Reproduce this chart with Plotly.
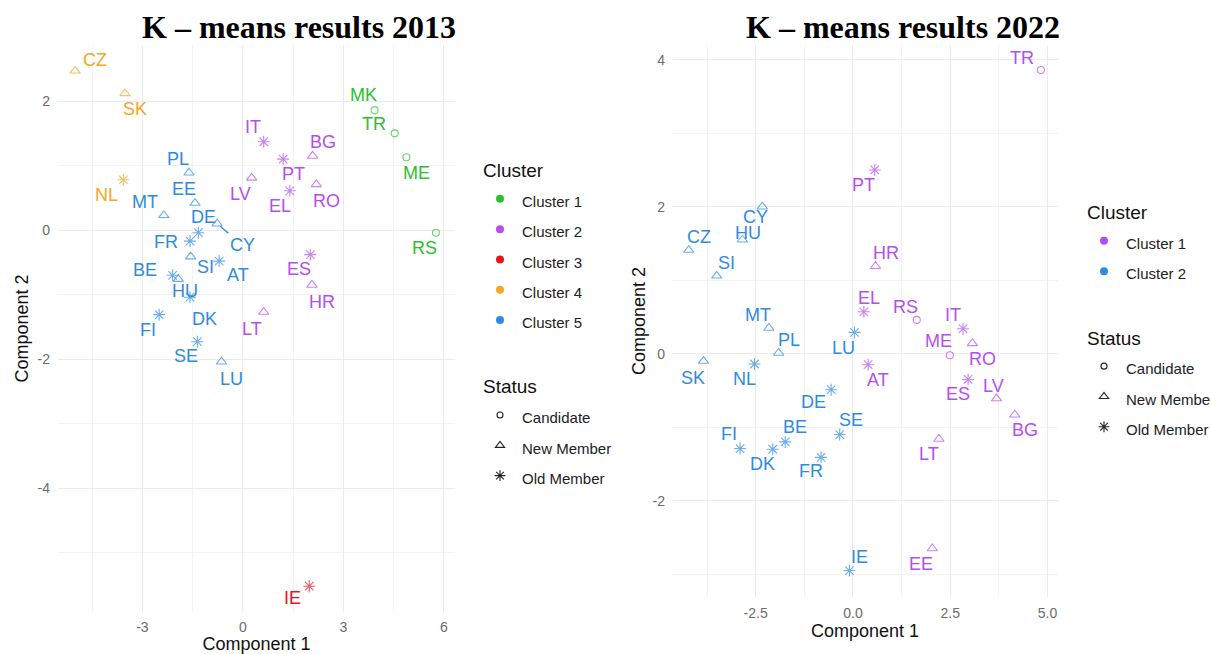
import plotly.graph_objects as go

# ---------------- data : 2013 ----------------
countries_2013 = ["CZ", "SK", "NL", "MK", "TR", "ME", "RS", "IT", "PT", "BG", "LV", "EL", "RO",
                  "ES", "HR", "LT", "IE", "PL", "EE", "MT", "CY", "DE", "FR", "SI", "AT", "BE",
                  "HU", "DK", "FI", "SE", "LU"]
pc1_2013 = [-5.01, -3.52, -3.57, 3.93, 4.53, 4.88, 5.76, 0.62, 1.20, 2.08, 0.26, 1.40, 2.19,
            2.01, 2.06, 0.62, 1.98, -1.61, -1.43, -2.36, -0.77, -1.33, -1.58, -1.56, -0.71, -2.10,
            -1.93, -1.58, -2.50, -1.36, -0.64]
pc2_2013 = [2.47, 2.12, 0.78, 1.86, 1.50, 1.13, -0.04, 1.37, 1.10, 1.15, 0.81, 0.61, 0.71,
            -0.38, -0.85, -1.27, -5.52, 0.89, 0.42, 0.23, 0.10, -0.04, -0.17, -0.41, -0.48, -0.70,
            -0.76, -1.04, -1.31, -1.73, -2.04]
cluster_2013 = ["Cluster 4", "Cluster 4", "Cluster 4", "Cluster 1", "Cluster 1", "Cluster 1", "Cluster 1",
                "Cluster 2", "Cluster 2", "Cluster 2", "Cluster 2", "Cluster 2", "Cluster 2",
                "Cluster 2", "Cluster 2", "Cluster 2", "Cluster 3", "Cluster 5", "Cluster 5", "Cluster 5",
                "Cluster 5", "Cluster 5", "Cluster 5", "Cluster 5", "Cluster 5", "Cluster 5",
                "Cluster 5", "Cluster 5", "Cluster 5", "Cluster 5", "Cluster 5"]
status_2013 = ["New Member", "New Member", "Old Member", "Candidate", "Candidate", "Candidate", "Candidate",
               "Old Member", "Old Member", "New Member", "New Member", "Old Member", "New Member",
               "Old Member", "New Member", "New Member", "Old Member", "New Member", "New Member", "New Member",
               "New Member", "Old Member", "Old Member", "New Member", "Old Member", "Old Member",
               "New Member", "Old Member", "Old Member", "Old Member", "New Member"]

# ---------------- data : 2022 ----------------
countries_2022 = ["TR", "PT", "HR", "EL", "RS", "IT", "ME", "RO", "AT", "ES", "LV", "BG", "LT", "EE",
                  "CY", "HU", "CZ", "SI", "MT", "PL", "LU", "SK", "NL", "DE", "SE", "BE", "FI", "DK",
                  "FR", "IE"]
pc1_2022 = [4.83, 0.56, 0.58, 0.28, 1.64, 2.83, 2.49, 3.07, 0.39, 2.96, 3.69, 4.16, 2.21, 2.04,
            -2.33, -2.84, -4.22, -3.50, -2.16, -1.91, 0.04, -3.84, -2.53, -0.56, -0.34, -1.74, -2.90, -2.06,
            -0.82, -0.09]
pc2_2022 = [3.86, 2.50, 1.19, 0.57, 0.46, 0.34, -0.02, 0.14, -0.15, -0.35, -0.61, -0.83, -1.16, -2.65,
            2.00, 1.55, 1.41, 1.06, 0.35, 0.01, 0.29, -0.10, -0.14, -0.49, -1.10, -1.20, -1.29, -1.30,
            -1.41, -2.95]
cluster_2022 = ["Cluster 1"] * 14 + ["Cluster 2"] * 16
status_2022 = ["Candidate", "Old Member", "New Member", "Old Member", "Candidate", "Old Member", "Candidate",
               "New Member", "Old Member", "Old Member", "New Member", "New Member", "New Member", "New Member",
               "New Member", "New Member", "New Member", "New Member", "New Member", "New Member", "Old Member",
               "New Member", "Old Member", "Old Member", "Old Member", "Old Member", "Old Member", "Old Member",
               "Old Member", "Old Member"]

clusters_2013 = ["Cluster 1", "Cluster 2", "Cluster 3", "Cluster 4", "Cluster 5"]
clusters_2022 = ["Cluster 1", "Cluster 2"]
statuses = ["Candidate", "New Member", "Old Member"]

# tick values / labels
xticks_2013 = [-3, 0, 3, 6]
xtick_labels_2013 = ["-3", "0", "3", "6"]
yticks_2013 = [-4, -2, 0, 2]
ytick_labels_2013 = ["-4", "-2", "0", "2"]
xticks_2022 = [-2.5, 0, 2.5, 5]
xtick_labels_2022 = ["-2.5", "0.0", "2.5", "5.0"]
yticks_2022 = [-2, 0, 2, 4]
ytick_labels_2022 = ["-2", "0", "2", "4"]

# ---------------- styles ----------------
GREEN, PURPLE, RED, ORANGE, BLUE = "#2DC02D", "#B44EF0", "#E8141C", "#F5A623", "#2F8BDD"
colors_2013 = {"Cluster 1": GREEN, "Cluster 2": PURPLE, "Cluster 3": RED,
               "Cluster 4": ORANGE, "Cluster 5": BLUE}
colors_2022 = {"Cluster 1": PURPLE, "Cluster 2": BLUE}
symbols = {"Candidate": "circle-open", "New Member": "triangle-up-open", "Old Member": "asterisk-open"}
sizes = {"Candidate": 7, "New Member": 9, "Old Member": 10}

# label offsets (px, screen coordinates: +dx right, +dy down)
offs_2013 = {"CZ": (20, -11), "SK": (10, 16), "NL": (-17, 15), "MK": (-11, -15), "TR": (-21, -9),
             "ME": (10, 16), "RS": (-11, 15), "IT": (-11, -15), "PT": (10, 15), "BG": (10, -14),
             "LV": (-11, 16), "EL": (-10, 15), "RO": (10, 17), "ES": (-11, 14), "HR": (10, 17),
             "LT": (-12, 17), "IE": (-17, 12), "PL": (-11, -14), "EE": (-11, -14), "MT": (-19, -13),
             "CY": (25, 21), "DE": (5, -16), "FR": (-24, 1), "SI": (15, 10), "AT": (19, 14),
             "BE": (-28, -5), "HU": (7, 12), "DK": (14, 22), "FI": (-11, 15), "SE": (-11, 14),
             "LU": (10, 17)}
offs_2022 = {"TR": (-19, -12), "PT": (-11, 15), "HR": (10, -13), "EL": (5, -14), "RS": (-11, -13),
             "IT": (-10, -14), "ME": (-11, -14), "RO": (10, 16), "AT": (10, 15), "ES": (-10, 15),
             "LV": (-3, -13), "BG": (10, 15), "LT": (-10, 15), "EE": (-11, 16), "CY": (-7, 10),
             "HU": (6, -7), "CZ": (10, -13), "SI": (10, -13), "MT": (-11, -13), "PL": (10, -13),
             "LU": (-11, 16), "SK": (-11, 17), "NL": (-10, 15), "DE": (-18, 12), "SE": (11, -15),
             "BE": (10, -15), "FI": (-11, -15), "DK": (-10, 15), "FR": (-10, 14), "IE": (10, -14)}
arrow_labels_2013 = {"CY"}

LABEL_FONT = "Liberation Sans, Arial, sans-serif"
W, H = 1211, 654
LEG_TXT = "<span style='font-size:15px'>{}</span>"

fig = go.Figure()


def add_panel(xa, ya, legend, countries, pc1, pc2, cluster, status, cmap, clusters, offs, arrows):
    fig.add_trace(go.Scatter(
        x=pc1, y=pc2, mode="markers", xaxis=xa, yaxis=ya, showlegend=False, hoverinfo="text",
        text=countries,
        marker=dict(color=[cmap[c] for c in cluster], symbol=[symbols[s] for s in status],
                    size=[sizes[s] for s in status], line=dict(width=1.1, color=[cmap[c] for c in cluster])),
    ))
    axref = "x" if xa == "x" else "x2"
    ayref = "y" if ya == "y" else "y2"
    for name, x, y, c in zip(countries, pc1, pc2, cluster):
        dx, dy = offs[name]
        col = cmap[c]
        if name in arrows:
            fig.add_annotation(x=x, y=y, xref=axref, yref=ayref, text=name, showarrow=True,
                               ax=dx, ay=dy, arrowhead=0, arrowwidth=1.2, arrowcolor=col, standoff=4,
                               font=dict(family=LABEL_FONT, size=18, color=col))
        else:
            fig.add_annotation(x=x, y=y, xref=axref, yref=ayref, text=name, showarrow=False,
                               xshift=dx, yshift=-dy, xanchor="center", yanchor="middle",
                               font=dict(family=LABEL_FONT, size=18, color=col))
    # legend entries
    for c in clusters:
        fig.add_trace(go.Scatter(x=[None], y=[None], mode="markers", xaxis=xa, yaxis=ya,
                                 name=LEG_TXT.format(c),
                                 legend=legend, legendgroup=legend + "cl",
                                 legendgrouptitle=dict(text="Cluster"),
                                 marker=dict(color=cmap[c], size=8, symbol="circle")))
    for s in statuses:
        fig.add_trace(go.Scatter(x=[None], y=[None], mode="markers", xaxis=xa, yaxis=ya,
                                 name=LEG_TXT.format(s),
                                 legend=legend, legendgroup=legend + "st",
                                 legendgrouptitle=dict(text="Status"),
                                 marker=dict(color="#222222", size=sizes[s] - 1, symbol=symbols[s],
                                             line=dict(width=1.1, color="#222222"))))


add_panel("x", "y", "legend", countries_2013, pc1_2013, pc2_2013, cluster_2013, status_2013,
          colors_2013, clusters_2013, offs_2013, arrow_labels_2013)
add_panel("x2", "y2", "legend2", countries_2022, pc1_2022, pc2_2022, cluster_2022, status_2022,
          colors_2022, clusters_2022, offs_2022, set())

GRID = "#EBEBEB"
MINOR = "#F3F3F3"
TICKF = dict(family=LABEL_FONT, size=14, color="#6B6B6B")
TITLEF = dict(family=LABEL_FONT, size=18, color="#111111")


def axis(domain, rng, tickvals, ticktext, minor, title, anchor, standoff, lblstand):
    return dict(domain=domain, range=rng, tickmode="array", tickvals=tickvals, ticktext=ticktext,
                showgrid=True, gridcolor=GRID,
                gridwidth=1.2, zeroline=False, showline=False, ticks="", tickfont=TICKF,
                ticklabelstandoff=lblstand,
                minor=dict(tickmode="linear", dtick=minor, tick0=0, showgrid=True, gridcolor=MINOR,
                           gridwidth=0.8),
                title=dict(text=title, font=TITLEF, standoff=standoff), anchor=anchor,
                automargin=False, fixedrange=True)


def px2x(p):
    return p / W


def py2y(p):
    return 1 - p / H


LEGEND_COMMON = dict(xanchor="left", yanchor="top",
                     font=dict(family=LABEL_FONT, size=21, color="#222222"),
                     grouptitlefont=dict(family=LABEL_FONT, size=19, color="#111111"),
                     tracegroupgap=37, itemsizing="trace", itemwidth=34, bgcolor="rgba(0,0,0,0)")

fig.update_layout(
    width=W, height=H, margin=dict(l=0, r=0, t=0, b=0, autoexpand=False),
    paper_bgcolor="white", plot_bgcolor="white",
    xaxis=axis([px2x(58), px2x(455)], [-5.52, 6.33], xticks_2013, xtick_labels_2013, 1.5,
               "Component 1", "y", 4, 5),
    yaxis=axis([py2y(612), py2y(45)], [-5.92, 2.87], yticks_2013, ytick_labels_2013, 1,
               "Component 2", "x", 4, 7),
    xaxis2=axis([px2x(672), px2x(1058)], [-4.65, 5.27], xticks_2022, xtick_labels_2022, 1.25,
                "Component 1", "y2", 4, 6),
    yaxis2=axis([py2y(597), py2y(45)], [-3.31, 4.20], yticks_2022, ytick_labels_2022, 1,
                "Component 2", "x2", 2, 6),
    legend=dict(x=px2x(478), y=py2y(151), **LEGEND_COMMON),
    legend2=dict(x=px2x(1082), y=py2y(193), **LEGEND_COMMON),
    showlegend=True,
)

TITLE_FONT = dict(family="Liberation Serif, Times New Roman, serif", size=32, color="black")
fig.add_annotation(text="<b>K – means results 2013</b>", x=px2x(299), y=py2y(27), xref="paper",
                   yref="paper", showarrow=False, xanchor="center", yanchor="middle", font=TITLE_FONT)
fig.add_annotation(text="<b>K – means results 2022</b>", x=px2x(903), y=py2y(27), xref="paper",
                   yref="paper", showarrow=False, xanchor="center", yanchor="middle", font=TITLE_FONT)

fig.write_html("out.html", post_script="document.body.style.margin='0';",
               config={"displayModeBar": False})
